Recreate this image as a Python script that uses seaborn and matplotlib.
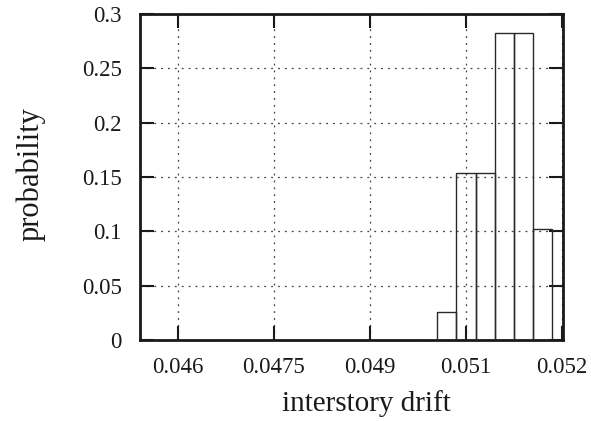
import numpy as np
import pandas as pd
import matplotlib
matplotlib.use("Agg")
import matplotlib.pyplot as plt
import seaborn as sns

# Data
bin_edges = [0.05005, 0.05035, 0.05065, 0.05095, 0.05125, 0.05155, 0.05185]
probability = [0.0256, 0.1538, 0.1538, 0.2821, 0.2821, 0.1026]
x_ticks = [0.046, 0.0475, 0.049, 0.0505, 0.052]
x_tick_labels = ["0.046", "0.0475", "0.049", "0.051", "0.052"]
y_ticks = [0, 0.05, 0.1, 0.15, 0.2, 0.25, 0.3]
y_tick_labels = ["0", "0.05", "0.1", "0.15", "0.2", "0.25", "0.3"]

centers = [(a + b) / 2 for a, b in zip(bin_edges[:-1], bin_edges[1:])]
df = pd.DataFrame({"drift": centers, "prob": probability})

sns.set_style("white")
plt.rcParams["font.family"] = ["Liberation Serif", "DejaVu Serif"]
plt.rcParams["text.color"] = "#1a1a1a"

fig = plt.figure(figsize=(5.91, 4.21), dpi=100)
ax = fig.add_axes([140 / 591, 1 - 340 / 421, 423 / 591, 326 / 421])

ax.grid(True, color="#444444", linestyle=(0, (1.5, 4)), linewidth=0.9, zorder=0)
ax.set_axisbelow(True)

sns.histplot(data=df, x="drift", weights="prob", bins=bin_edges, stat="count",
             fill=False, color="#2a2a2a", linewidth=1.0, ax=ax, zorder=3)

ax.set_xlim(0.045411, 0.052016)
ax.set_ylim(0, 0.3)
ax.set_xticks(x_ticks)
ax.set_xticklabels(x_tick_labels)
ax.set_yticks(y_ticks)
ax.set_yticklabels(y_tick_labels)

ax.tick_params(axis="both", which="major", direction="in", length=10, width=1.5,
               color="#1a1a1a", labelsize=16.5, labelcolor="#1a1a1a",
               top=True, right=True, bottom=True, left=True)
ax.tick_params(axis="x", pad=12)
ax.tick_params(axis="y", pad=13)

for s in ax.spines.values():
    s.set_visible(True)
    s.set_linewidth(2)
    s.set_color("#1a1a1a")

ax.set_xlabel("interstory drift", fontsize=21, color="#1a1a1a")
ax.set_ylabel("probability", fontsize=22, color="#1a1a1a")
ax.xaxis.set_label_coords(0.534, -0.152)
ax.yaxis.set_label_coords(-0.224, 0.509)

fig.savefig("out.png", dpi=100)
